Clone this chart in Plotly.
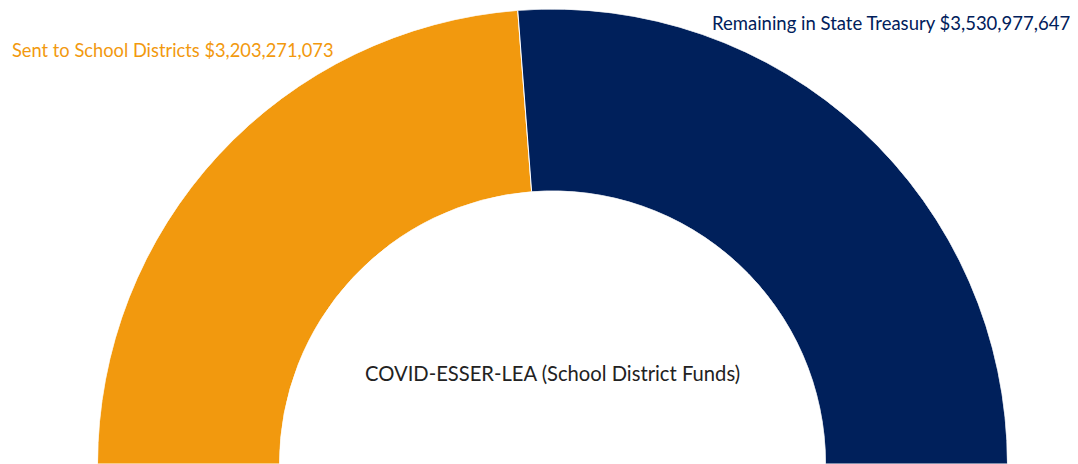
import plotly.graph_objects as go

# Data
categories = ["Sent to School Districts", "Remaining in State Treasury"]
amounts = [3203271073, 3530977647]
colors = ["#F2990E", "#00205B"]
center_title = "COVID-ESSER-LEA (School District Funds)"

total = sum(amounts)
spans = [a / total * 180.0 for a in amounts]
starts = [sum(spans[:i]) for i in range(len(spans))]
thetas = [s + w / 2 for s, w in zip(starts, spans)]

fig = go.Figure()
fig.add_trace(go.Barpolar(
    r=[1] * len(amounts),
    theta=thetas,
    width=spans,
    marker=dict(color=colors, line=dict(color="white", width=1)),
    customdata=amounts,
    text=categories,
    hoverinfo="skip",
))

# page body has an 8px default margin; figure sized to fit the window
OFF = 8
W, H = 1078 - OFF, 464 - OFF
cx, R = 552.5 - OFF, 455


def px(x):
    return (x - OFF) / W


def py(y):
    return 1 - (y - OFF) / H


fig.update_layout(
    width=W, height=H,
    margin=dict(l=0, r=0, t=0, b=0),
    paper_bgcolor="white",
    showlegend=False,
    polar=dict(
        domain=dict(x=[(cx - R) / W, (cx + R) / W], y=[0, R / H]),
        sector=[0, 180],
        hole=0.60,
        bgcolor="rgba(0,0,0,0)",
        angularaxis=dict(visible=False, direction="clockwise", rotation=180),
        radialaxis=dict(visible=False, range=[0, 1]),
    ),
    annotations=[
        dict(text=f"{categories[0]} ${amounts[0]:,}", x=px(10), y=py(50),
             xref="paper", yref="paper", xanchor="left", yanchor="middle",
             showarrow=False, font=dict(family="Lato", size=18.3, color=colors[0])),
        dict(text=f"{categories[1]} ${amounts[1]:,}", x=px(1072), y=py(23),
             xref="paper", yref="paper", xanchor="right", yanchor="middle",
             showarrow=False, font=dict(family="Lato", size=18.5, color=colors[1])),
        dict(text=center_title, x=px(552), y=py(373),
             xref="paper", yref="paper", xanchor="center", yanchor="middle",
             showarrow=False, font=dict(family="Lato", size=20.2, color="#222222")),
    ],
)

fig.write_html("out.html", config={"displayModeBar": False})
